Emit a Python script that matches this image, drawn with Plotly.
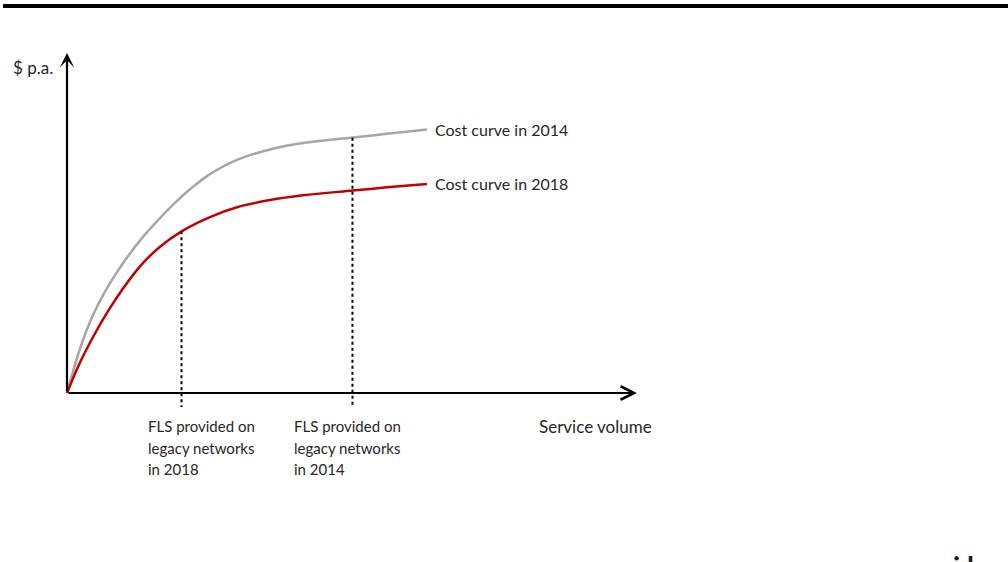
import plotly.graph_objects as go

# ---- data (volume 0..100, cost 0..100) ----
volume_2014 = [0, 3.61, 7.22, 10.56, 16.67, 21.11, 25.83, 30.56, 35.0, 39.72, 47.22, 56.39, 65.56, 79.44, 88.89, 100.0]
cost_2014 = [0, 16.7, 29.4, 38.3, 51.1, 58.9, 66.0, 72.5, 77.8, 82.6, 88.0, 91.9, 94.3, 96.4, 97.8, 99.4]

volume_2018 = [0, 3.61, 7.5, 11.39, 15.28, 20.28, 25.83, 31.94, 39.72, 47.22, 56.39, 65.56, 79.44, 88.89, 100.0]
cost_2018 = [0, 11.5, 21.8, 30.9, 38.9, 47.8, 55.2, 61.1, 66.4, 70.1, 72.8, 74.6, 76.4, 77.6, 78.9]

fls_volume = [31.8, 79.3]          # FLS provided on legacy networks in 2018 / 2014
fls_cost = [61.0, 96.3]
fls_labels = [["FLS provided on", "legacy networks", "in 2018"],
              ["FLS provided on", "legacy networks", "in 2014"]]
curve_labels = ["Cost curve in 2014", "Cost curve in 2018"]
y_title = "$ p.a."
x_title = "Service volume"

FONT = "Lato"
FS = 16
TXT = "#262626"

W, H = 1008, 562
OX, OY = 67, 393          # origin in pixels
SX, SY = 3.6, 2.65        # pixels per data unit

fig = go.Figure()

fig.add_trace(go.Scatter(x=volume_2014, y=cost_2014, mode="lines",
                         line=dict(color="#a6a6a6", width=2.5, shape="spline", smoothing=1.0),
                         hoverinfo="skip"))
fig.add_trace(go.Scatter(x=volume_2018, y=cost_2018, mode="lines",
                         line=dict(color="#c00000", width=2.5, shape="spline", smoothing=1.0),
                         hoverinfo="skip"))

for xv, yv in zip(fls_volume, fls_cost):
    fig.add_trace(go.Scatter(x=[xv, xv], y=[yv, -5.3], mode="lines",
                             line=dict(color="black", width=2, dash="dot"),
                             hoverinfo="skip"))

ann = []
ann.append(dict(x=0, y=128.3, ax=0, ay=0, xref="x", yref="y", axref="x", ayref="y",
                showarrow=True, arrowhead=3, arrowsize=1.1, arrowwidth=2.2, arrowcolor="black",
                standoff=0, text=""))
ann.append(dict(x=158.3, y=0, ax=0, ay=0, xref="x", yref="y", axref="x", ayref="y",
                showarrow=True, arrowhead=5, arrowsize=1.2, arrowwidth=2.2, arrowcolor="black",
                standoff=0, text=""))

font = dict(family=FONT, size=FS, color=TXT)
font_small = dict(family=FONT, size=15, color=TXT)
ann.append(dict(x=-15.6, y=123.0, xref="x", yref="y", text=y_title, showarrow=False,
                xanchor="left", yanchor="middle", font=dict(family=FONT, size=17, color=TXT)))
ann.append(dict(x=101.6, y=99.6, xref="x", yref="y", text=curve_labels[0], showarrow=False,
                xanchor="left", yanchor="middle", font=font))
ann.append(dict(x=101.6, y=79.2, xref="x", yref="y", text=curve_labels[1], showarrow=False,
                xanchor="left", yanchor="middle", font=font))
line_y = [-12.5, -20.8, -28.7]
for lx, lines in zip([21.9, 62.5], fls_labels):
    for ly, t in zip(line_y, lines):
        ann.append(dict(x=lx, y=ly, xref="x", yref="y", text=t, showarrow=False,
                        xanchor="left", yanchor="middle", font=font_small))
ann.append(dict(x=130.5, y=-12.5, xref="x", yref="y", text=x_title, showarrow=False,
                xanchor="left", yanchor="middle", font=dict(family=FONT, size=17, color=TXT)))
# partially visible glyphs at the bottom-right edge
ann.append(dict(x=951 / W, y=1 - 547 / H, xref="paper", yref="paper", text="<b>i l</b>",
                showarrow=False, xanchor="left", yanchor="top",
                font=dict(family=FONT, size=28, color="#1a1a1a")))

fig.update_layout(
    width=W, height=H,
    margin=dict(l=0, r=0, t=0, b=0),
    paper_bgcolor="white", plot_bgcolor="white",
    showlegend=False,
    xaxis=dict(range=[-OX / SX, (W - OX) / SX], visible=False, fixedrange=True),
    yaxis=dict(range=[(OY - H) / SY, OY / SY], visible=False, fixedrange=True),
    annotations=ann,
    shapes=[dict(type="line", xref="paper", yref="paper", x0=3 / W, x1=1, y0=1 - 6 / H,
                 y1=1 - 6 / H, line=dict(color="black", width=4))],
)

fig.write_html("out.html", config={"displayModeBar": False},
               post_script="document.body.style.margin='0';document.body.style.overflow='hidden';")
